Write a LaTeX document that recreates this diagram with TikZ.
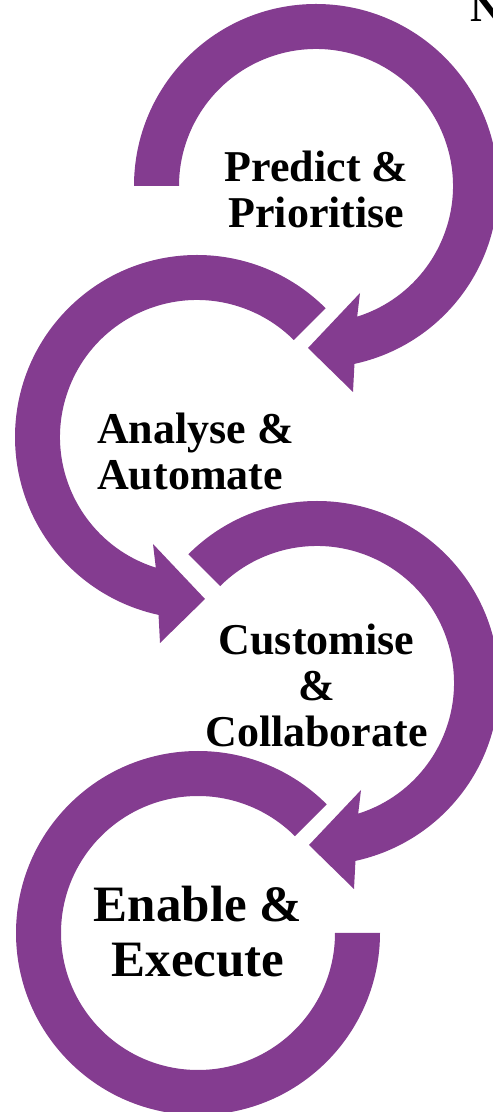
\documentclass[tikz,border=0pt]{standalone}
\usepackage{fontspec}
\setmainfont{Liberation Serif}
\definecolor{ringpurple}{RGB}{132,60,144}
\begin{document}
\begin{tikzpicture}[x=1pt,y=1pt,
  ring/.style={fill=ringpurple,draw=none},
  lbl/.style={inner sep=0pt,text=black,anchor=base},
  lblsmall/.style={lbl,font=\fontsize{44}{46}\selectfont\bfseries},
  lblbig/.style={lbl,font=\fontsize{51}{55}\selectfont\bfseries}]
\clip (0,0) rectangle (493,1112);
% ring 1: Predict & Prioritise (clockwise)
\begin{scope}[shift={(316,926)}]
\fill[ring] (180:182) arc[start angle=180,end angle=-77.8,radius=182]
  -- (37,-206) -- (-8,-162) -- (44,-107) -- (-72.5:137)
  arc[start angle=-72.5,end angle=180,radius=137] -- cycle;
\end{scope}
% ring 2: Analyse & Automate (counter-clockwise)
\begin{scope}[shift={(197,675)}]
\fill[ring] (45:182) arc[start angle=45,end angle=257.8,radius=182]
  -- (-37,-206) -- (8,-162) -- (-44,-107) -- (252.5:137)
  arc[start angle=252.5,end angle=45,radius=137] -- cycle;
\end{scope}
% ring 3: Customise & Collaborate (clockwise)
\begin{scope}[shift={(317,429)}]
\fill[ring] (135:182) arc[start angle=135,end angle=-77.8,radius=182]
  -- (37,-206) -- (-8,-162) -- (44,-107) -- (-72.5:137)
  arc[start angle=-72.5,end angle=135,radius=137] -- cycle;
\end{scope}
% ring 4: Enable & Execute
\begin{scope}[shift={(198,179)}]
\fill[ring] (45:182) arc[start angle=45,end angle=360,radius=182]
  -- (0:137) arc[start angle=360,end angle=45,radius=137] -- cycle;
\end{scope}
% labels (anchor base = baseline of the last line)
\node[lblsmall,align=center] (predict) at (316.5,884) {Predict \&\\Prioritise};
\node[lblsmall,align=left,anchor=base west] (analyse) at (97,622) {Analyse \&\\Automate};
\node[lblsmall,align=center] (customise) at (316.5,365) {Customise\\\&\\Collaborate};
\node[lblbig,align=center] (enable) at (198,135) {Enable \&\\Execute};
\node[lblsmall,anchor=base west] (ntext) at (470,1090) {N};
\end{tikzpicture}
\end{document}
